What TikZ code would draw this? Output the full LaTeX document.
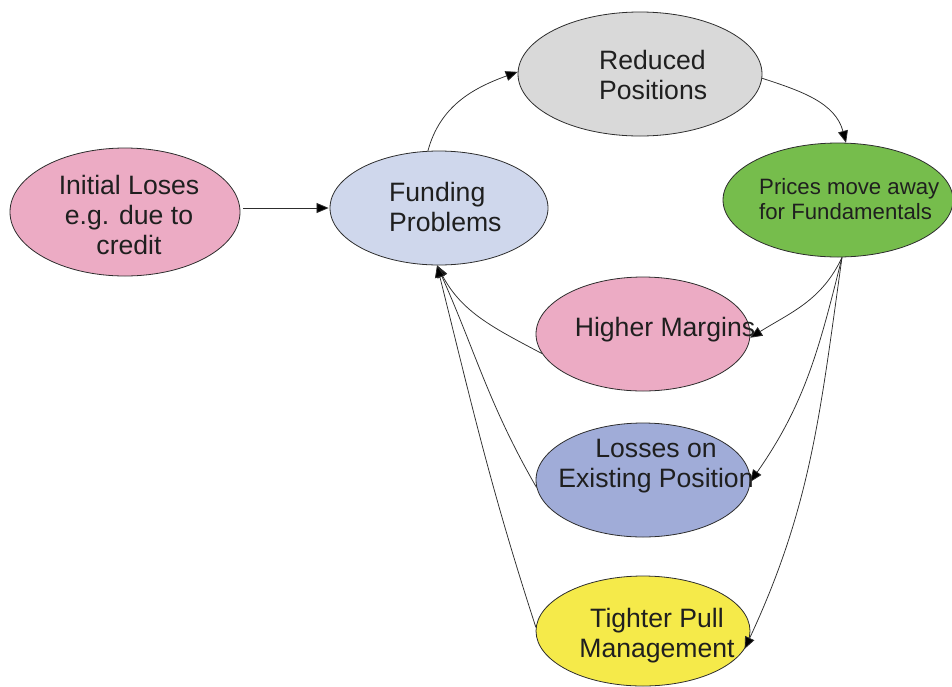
\documentclass[tikz,border=0pt]{standalone}
\usepackage{fontspec}
\setmainfont{Liberation Sans}
\usetikzlibrary{shapes.geometric,arrows.meta}

\definecolor{pinkfill}{RGB}{236,171,196}
\definecolor{fundfill}{RGB}{207,215,236}
\definecolor{greyfill}{RGB}{217,217,217}
\definecolor{greenfill}{RGB}{118,189,76}
\definecolor{bluefill}{RGB}{160,172,216}
\definecolor{yellowfill}{RGB}{245,234,74}
\definecolor{edge}{RGB}{45,45,45}

\tikzset{
  blob/.style={ellipse, draw=edge, line width=0.8pt, fill=#1, inner sep=0pt},
  txt/.style={align=center, inner sep=0pt, text=black!88,
              font=\fontsize{26.6pt}{30pt}\selectfont},
  lefttxt/.style={txt, align=left, anchor=west},
  smalltxt/.style={lefttxt, font=\fontsize{22.2pt}{25pt}\selectfont},
  flow/.style={draw=edge, line width=0.75pt,
               -{Triangle[length=12pt,width=10pt,fill=black]}}
}

\begin{document}
\begin{tikzpicture}[x=1pt,y=-1pt]
\useasboundingbox (0,0) rectangle (952,686);

% ellipses
\node[blob=pinkfill,   minimum width=230pt, minimum height=128pt] (init) at (125,212) {};
\node[blob=fundfill,   minimum width=218pt, minimum height=114pt] (fund) at (439,208) {};
\node[blob=greyfill,   minimum width=244pt, minimum height=124pt] (red)  at (640,74)  {};
\node[blob=greenfill,  minimum width=230pt, minimum height=114pt] (pr)   at (838,200) {};
\node[blob=pinkfill,   minimum width=214pt, minimum height=114pt] (hm)   at (643,334) {};
\node[blob=bluefill,   minimum width=214pt, minimum height=114pt] (loss) at (643,480) {};
\node[blob=yellowfill, minimum width=214pt, minimum height=110pt] (tp)   at (643,631) {};

% labels
\node[txt] (initT) at (129,215) {Initial Loses\\e.g. due to\\credit};
\node[lefttxt] (fundT) at (389,207) {Funding\\Problems};
\node[lefttxt] (redT)  at (599,75)  {Reduced\\Positions};
\node[smalltxt] (prT) at (759,199) {Prices move away\\for Fundamentals};
\node[txt] (hmT)   at (665,330) {Higher Margins};
\node[txt] (lossT) at (656,466) {Losses on\\Existing Position};
\node[txt] (tpT)   at (657,636) {Tighter Pull\\Management};

% main cycle
\draw[flow, shorten <=3pt, shorten >=1pt] (init.east |- fund.west) -- (fund.west);
\draw[flow] (fund.101) to[out=75, in=200] (red.179);
\draw[flow] (red.-2) to[out=-18, in=105] (pr.82);

% effects of the price move
\draw[flow] (pr.-86) to[out=-115, in=32] (hm.-2);
\draw[flow] (pr.-86) to[out=-104, in=55] (loss.-1);
\draw[flow] (pr.-86) to[out=-98, in=65] (tp.-10);

% feedback into funding
\draw[flow] (hm.191) to[out=152, in=-62] (fund.-92);
\draw[flow] (loss.184) to[out=120, in=-66] (fund.-92);
\draw[flow] (tp.178) to[out=108, in=-76] (fund.-92);
\end{tikzpicture}
\end{document}
